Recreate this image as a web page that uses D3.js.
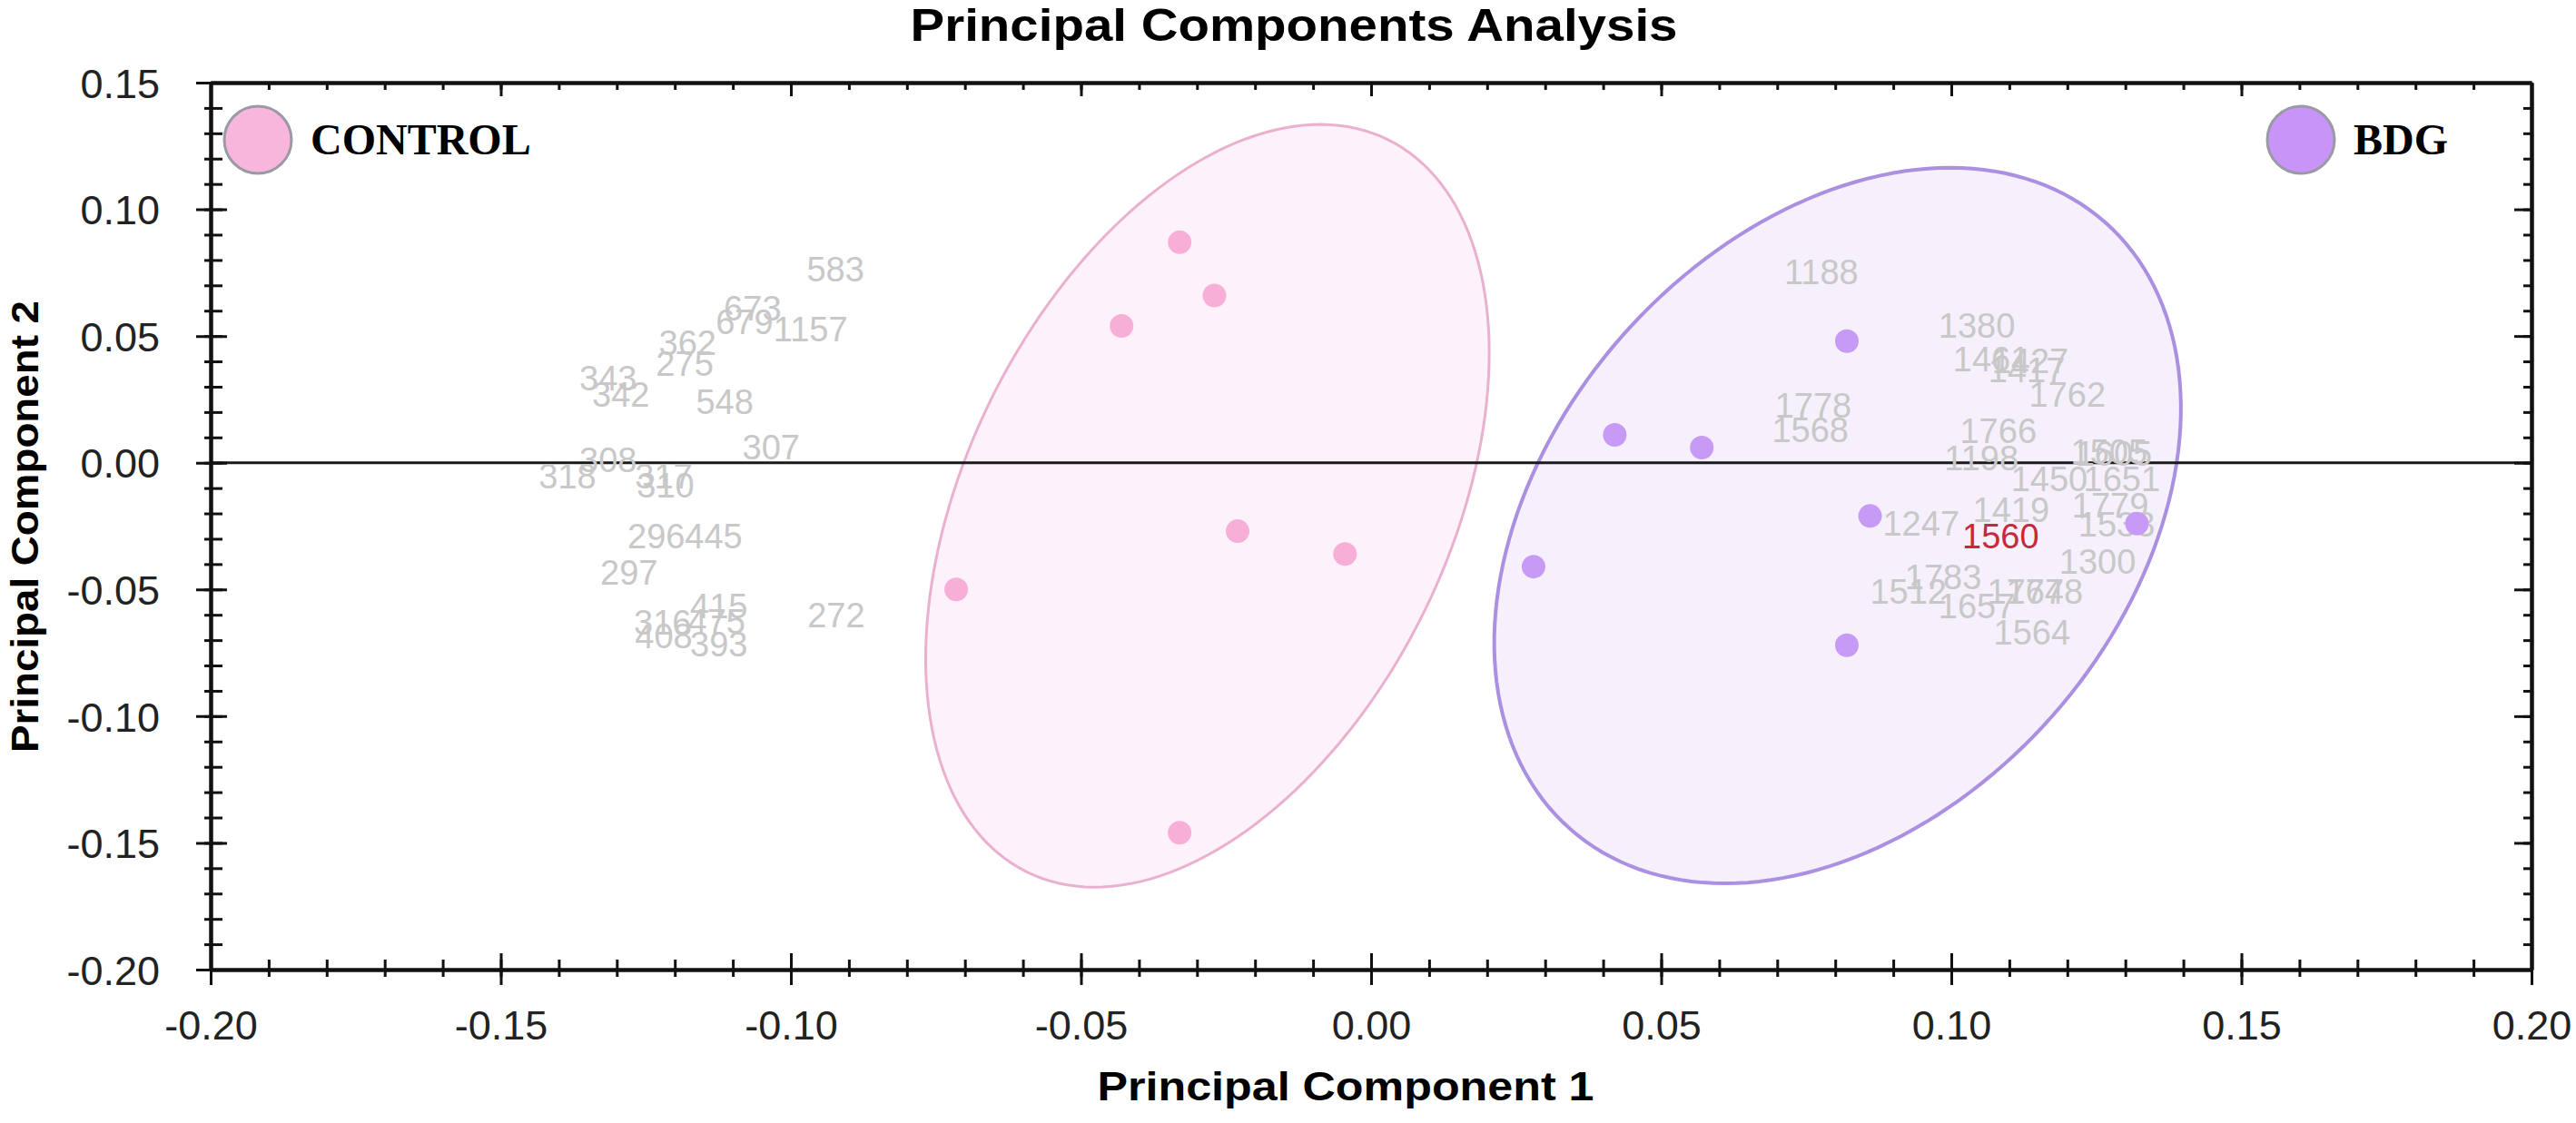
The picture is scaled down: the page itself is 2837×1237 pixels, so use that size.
<!DOCTYPE html>
<html>
<head>
<meta charset="utf-8">
<script src="https://cdn.jsdelivr.net/npm/d3@7"></script>
<style>
  body { margin: 0; background: #fff; }
  svg text { font-family: "Liberation Sans", Arial, sans-serif; }
  svg text.legend { font-family: "Liberation Serif", "Times New Roman", serif; }
</style>
</head>
<body>
<div id="chart"></div>
<script>
// PCA score plot, two groups with confidence ellipses + variable labels

const width = 2837;
const height = 1237;
const margin = {left: 232, right: 49, top: 91, bottom: 169};

// sample scores (PC1, PC2)
const controlX = [-0.033, -0.027, -0.043, -0.023, -0.0045, -0.0715, -0.033];
const controlY = [0.087, 0.066, 0.054, -0.027, -0.036, -0.050, -0.146];
const bdgX = [0.082, 0.042, 0.057, 0.086, 0.132, 0.028, 0.082];
const bdgY = [0.048, 0.011, 0.006, -0.021, -0.024, -0.041, -0.072];

// variable (m/z) labels
const varNames = ["583", "673", "679", "1157", "362", "275", "343", "342", "548", "307",
  "308", "318", "317", "310", "296", "445", "297", "415", "316", "475", "408", "393", "272",
  "1188", "1380", "1461", "1427", "1417", "1762", "1778", "1568", "1766", "1505", "1605",
  "1198", "1450", "1651", "1419", "1779", "1533", "1247", "1560", "1300", "1783", "1512",
  "1767", "1748", "1657", "1564"];
const varX = [-0.0923, -0.1066, -0.1080, -0.0966, -0.1178, -0.1183, -0.1315, -0.1293, -0.1114, -0.1034,
  -0.1315, -0.1385, -0.1219, -0.1216, -0.1232, -0.1133, -0.1279, -0.1124, -0.1221, -0.1128, -0.1219, -0.1124, -0.0922,
  0.0776, 0.1044, 0.1069, 0.1136, 0.1130, 0.1200, 0.0762, 0.0757, 0.1081, 0.1272, 0.1280,
  0.1052, 0.1169, 0.1294, 0.1103, 0.1274, 0.1285, 0.0948, 0.1085, 0.1252, 0.0986, 0.0926,
  0.1128, 0.1161, 0.1044, 0.1139];
const varY = [0.0762, 0.0608, 0.0554, 0.0525, 0.0472, 0.0389, 0.0332, 0.0267, 0.0239, 0.0060,
  0.0009, -0.0055, -0.0055, -0.0091, -0.0291, -0.0291, -0.0435, -0.0567, -0.0632, -0.0628, -0.0686, -0.0718, -0.0603,
  0.0751, 0.0540, 0.0407, 0.0400, 0.0364, 0.0267, 0.0224, 0.0128, 0.0124, 0.0042, 0.0035,
  0.0017, -0.0066, -0.0066, -0.0188, -0.0170, -0.0245, -0.0241, -0.0291, -0.0392, -0.0453, -0.0510,
  -0.0510, -0.0510, -0.0567, -0.0671];
const highlightVar = "1560";

// confidence ellipses: centre + two half-axis vectors (data units)
const groupNames = ["CONTROL", "BDG"];
const ellipseCx = [-0.0282, 0.0804];
const ellipseCy = [-0.0170, -0.0248];
const ellipseU = [[0.0311, 0.1445], [0.0461, 0.1197]];
const ellipseV = [[0.0373, -0.0420], [0.0371, -0.0749]];

// tick labels
const xTicks = [-0.20, -0.15, -0.10, -0.05, 0.00, 0.05, 0.10, 0.15, 0.20];
const yTicks = [-0.20, -0.15, -0.10, -0.05, 0.00, 0.05, 0.10, 0.15];

const svg = d3.select("#chart")
  .append("svg")
  .attr("width", width)
  .attr("height", height);

const x = d3.scaleLinear()
  .domain([-0.2, 0.2])
  .range([margin.left, width - margin.right]);

const y = d3.scaleLinear()
  .domain([-0.2, 0.15])
  .range([height - margin.bottom, margin.top]);

const minorX = d3.range(-20, 21).map(d => d / 100);
const minorY = d3.range(-20, 16).map(d => d / 100);

/* ellipses */
const ellFill = ["#fdf2f9", "#f6f0fd"];
const ellStroke = ["#eab0cf", "#ab8fe0"];

const ellLine = d3.line()
  .x(d => x(d[0]))
  .y(d => y(d[1]))
  .curve(d3.curveLinearClosed);

groupNames.forEach((g, i) => {
  const pts = d3.range(0, 360, 2).map(a => {
    const t = a * Math.PI / 180;
    return [
      ellipseCx[i] + ellipseU[i][0] * Math.cos(t) + ellipseV[i][0] * Math.sin(t),
      ellipseCy[i] + ellipseU[i][1] * Math.cos(t) + ellipseV[i][1] * Math.sin(t)
    ];
  });
  svg.append("path")
    .attr("d", ellLine(pts))
    .attr("fill", ellFill[i])
    .attr("stroke", ellStroke[i])
    .attr("stroke-width", i === 0 ? 3 : 4);
});

// zero line
svg.append("line")
  .attr("x1", x(-0.2))
  .attr("x2", x(0.2))
  .attr("y1", y(0))
  .attr("y2", y(0))
  .attr("stroke", "#1a1a1a")
  .attr("stroke-width", 3);

/* variable labels */
svg.selectAll(".varlabel")
  .data(varNames)
  .enter()
  .append("text")
    .attr("class", "varlabel")
    .attr("x", (d, i) => x(varX[i]))
    .attr("y", (d, i) => y(varY[i]))
    .attr("text-anchor", "middle")
    .attr("dominant-baseline", "central")
    .attr("font-size", 38)
    .attr("fill", d => d === highlightVar ? "#c8283c" : "#c8c8c8")
    .text(d => d);

/* points */
const pointColor = ["#f7afd7", "#c79af6"];

svg.selectAll(".ctrl")
  .data(controlX)
  .enter()
  .append("circle")
    .attr("class", "ctrl")
    .attr("cx", d => x(d))
    .attr("cy", (d, i) => y(controlY[i]))
    .attr("r", 13)
    .attr("fill", pointColor[0]);

svg.selectAll(".bdg")
  .data(bdgX)
  .enter()
  .append("circle")
    .attr("class", "bdg")
    .attr("cx", d => x(d))
    .attr("cy", (d, i) => y(bdgY[i]))
    .attr("r", 13)
    .attr("fill", pointColor[1]);

/* axes */
const axisColor = "#111";

function styleAxis(g) {
  g.select(".domain").attr("stroke", axisColor).attr("stroke-width", 4);
  g.selectAll(".tick line").attr("stroke", axisColor).attr("stroke-width", 3);
  g.selectAll(".tick text").attr("fill", "#222").attr("font-size", 45);
}

// minor ticks first
svg.append("g")
  .attr("transform", `translate(0,${y(-0.2)})`)
  .call(d3.axisBottom(x).tickValues(minorX).tickFormat("").tickSizeOuter(0))
  .call(styleAxis)
  .call(g => g.selectAll(".tick line").attr("y1", -11).attr("y2", 8));

svg.append("g")
  .attr("transform", `translate(${x(-0.2)},0)`)
  .call(d3.axisLeft(y).tickValues(minorY).tickFormat("").tickSizeOuter(0))
  .call(styleAxis)
  .call(g => g.selectAll(".tick line").attr("x1", 13).attr("x2", -7));

svg.append("g")
  .attr("transform", `translate(0,${y(0.15)})`)
  .call(d3.axisTop(x).tickValues(minorX).tickFormat("").tickSize(-8).tickSizeOuter(0))
  .call(styleAxis);

svg.append("g")
  .attr("transform", `translate(${x(0.2)},0)`)
  .call(d3.axisRight(y).tickValues(minorY).tickFormat("").tickSize(-9).tickSizeOuter(0))
  .call(styleAxis);

// major ticks + labels
svg.append("g")
  .attr("transform", `translate(0,${y(-0.2)})`)
  .call(d3.axisBottom(x).tickValues(xTicks).tickFormat(d => d.toFixed(2)).tickSizeOuter(0))
  .call(styleAxis)
  .call(g => g.selectAll(".tick line").attr("y1", -18).attr("y2", 17))
  .call(g => g.selectAll(".tick text").attr("y", 77).attr("dy", 0));

svg.append("g")
  .attr("transform", `translate(${x(-0.2)},0)`)
  .call(d3.axisLeft(y).tickValues(yTicks).tickFormat(d => d.toFixed(2)).tickSizeOuter(0))
  .call(styleAxis)
  .call(g => g.selectAll(".tick line").attr("x1", 18).attr("x2", -16))
  .call(g => g.selectAll(".tick text").attr("x", -56).attr("dy", "0.36em"));

svg.append("g")
  .attr("transform", `translate(0,${y(0.15)})`)
  .call(d3.axisTop(x).tickValues(xTicks).tickFormat("").tickSize(-15).tickSizeOuter(0))
  .call(styleAxis);

svg.append("g")
  .attr("transform", `translate(${x(0.2)},0)`)
  .call(d3.axisRight(y).tickValues(yTicks).tickFormat("").tickSize(-19).tickSizeOuter(0))
  .call(styleAxis);

/* titles */
svg.append("text")
  .attr("x", 1425)
  .attr("y", 45)
  .attr("text-anchor", "middle")
  .attr("font-size", 50)
  .attr("font-weight", "bold")
  .attr("textLength", 845)
  .attr("lengthAdjust", "spacingAndGlyphs")
  .text("Principal Components Analysis");

svg.append("text")
  .attr("x", 1482)
  .attr("y", 1212)
  .attr("text-anchor", "middle")
  .attr("font-size", 44)
  .attr("font-weight", "bold")
  .attr("textLength", 547)
  .attr("lengthAdjust", "spacingAndGlyphs")
  .text("Principal Component 1");

svg.append("text")
  .attr("transform", "translate(42,580) rotate(-90)")
  .attr("text-anchor", "middle")
  .attr("font-size", 42)
  .attr("font-weight", "bold")
  .attr("textLength", 498)
  .attr("lengthAdjust", "spacingAndGlyphs")
  .text("Principal Component 2");

/* legend */
const legendX = [284, 2534];
const legendFill = ["#f9b6dc", "#c994f7"];

groupNames.forEach((g, i) => {
  svg.append("circle")
    .attr("cx", legendX[i])
    .attr("cy", 154)
    .attr("r", 37)
    .attr("fill", legendFill[i])
    .attr("stroke", "#9a9aa6")
    .attr("stroke-width", 3);
  svg.append("text")
    .attr("class", "legend")
    .attr("x", legendX[i] + 58)
    .attr("y", 170)
    .attr("font-weight", "bold")
    .attr("font-size", 48)
    .text(g);
});
</script>
</body>
</html>
